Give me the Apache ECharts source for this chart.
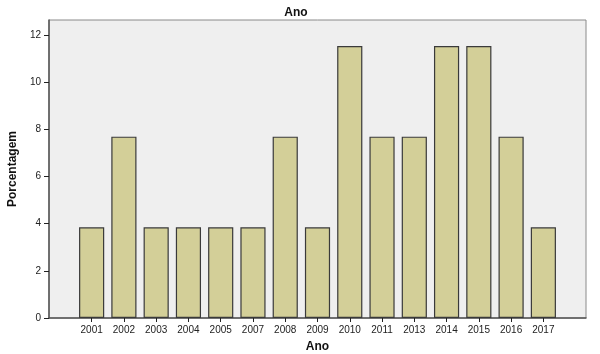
<!DOCTYPE html>
<html><head><meta charset="utf-8">
<script src="https://cdn.jsdelivr.net/npm/echarts@6/dist/echarts.min.js"></script>
<style>html,body{margin:0;padding:0;background:#fff}#c{width:600px;height:354px}</style>
</head><body><div id="c"></div>
<script>
const categories = ['2001','2002','2003','2004','2005','2007','2008','2009','2010','2011','2013','2014','2015','2016','2017'];
const values = [3.846,7.692,3.846,3.846,3.846,3.846,7.692,3.846,11.538,7.692,7.692,11.538,11.538,7.692,3.846];
const yTicks = [0,2,4,6,8,10,12];

const F = '"Liberation Sans", Arial, sans-serif';
const yMax = 12.64;
const chart = echarts.init(document.getElementById('c'));
chart.setOption({
  animation: false,
  title: {text: 'Ano', left: 291, top: 2, textAlign: 'center',
    textStyle: {fontFamily: F, fontWeight: 'bold', fontSize: 12, color: '#111'}},
  grid: [
    {left: 49, right: 14, top: 20, bottom: 36, containLabel: false, outerBoundsMode: 'none',
     show: true, backgroundColor: '#efefef', borderColor: '#8a8a8a', borderWidth: 1},
    {left: 75.5, right: 40.5, top: 20, bottom: 36, containLabel: false, outerBoundsMode: 'none'}
  ],
  xAxis: [
    {gridIndex: 0, type: 'value', min: 0, max: 1, axisLine: {show: true, onZero: false, lineStyle: {color: '#555', width: 1.5}},
     axisTick: {show: false}, axisLabel: {show: false}, splitLine: {show: false}},
    {gridIndex: 1, type: 'category', data: categories, boundaryGap: true,
     axisLine: {show: false}, axisTick: {show: true, alignWithLabel: true, length: 4, lineStyle: {color: '#222'}},
     axisLabel: {fontFamily: F, fontSize: 10, color: '#222', margin: 7, interval: 0},
     name: 'Ano', nameLocation: 'middle', nameGap: 23,
     nameTextStyle: {fontFamily: F, fontWeight: 'bold', fontSize: 12, color: '#111'}}
  ],
  yAxis: [
    {gridIndex: 0, type: 'value', min: 0, max: yMax,
     axisLine: {show: true, lineStyle: {color: '#555', width: 1.5}},
     axisTick: {show: true, length: 5, customValues: yTicks, lineStyle: {color: '#222'}},
     axisLabel: {fontFamily: F, fontSize: 10, color: '#222', margin: 8, customValues: yTicks},
     splitLine: {show: false},
     name: 'Porcentagem', nameLocation: 'middle', nameGap: 28, nameRotate: 90,
     nameTextStyle: {fontFamily: F, fontWeight: 'bold', fontSize: 12, color: '#111'}},
    {gridIndex: 1, type: 'value', min: 0, max: yMax, show: false}
  ],
  series: [{
    type: 'bar', xAxisIndex: 1, yAxisIndex: 1, data: values, barWidth: '78%',
    itemStyle: {color: '#d3cf98', borderColor: '#3a3a3a', borderWidth: 1.2},
    emphasis: {disabled: true}
  }]
});
</script></body></html>
